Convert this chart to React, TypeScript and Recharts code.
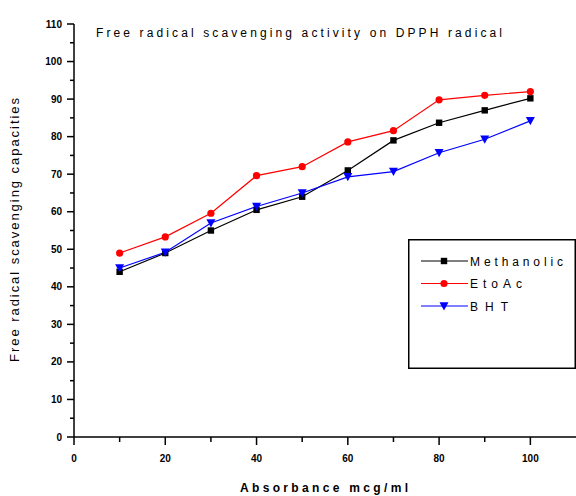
import React from "react";
import { LineChart, Line, XAxis, YAxis } from "recharts";

// concentration (mcg/ml) and scavenging capacity per extract
const concentrations = [10, 20, 30, 40, 50, 60, 70, 80, 90, 100];
const methanolic = [44, 49, 55, 60.5, 64, 71, 79, 83.7, 87, 90.2];
const etoac = [49, 53.3, 59.6, 69.6, 72, 78.6, 81.6, 89.8, 91, 92];
const bht = [45, 49.2, 57, 61.4, 65, 69.3, 70.7, 75.7, 79.3, 84.2];

const xTicks = [0, 10, 20, 30, 40, 50, 60, 70, 80, 90, 100];
const yTicks = [0, 5, 10, 15, 20, 25, 30, 35, 40, 45, 50, 55, 60, 65, 70, 75, 80, 85, 90, 95, 100, 105, 110];

const series = [
  { key: "methanolic", name: "Methanolic", color: "#000000", shape: "square", labelWidth: 93 },
  { key: "etoac", name: "EtoAc", color: "#ff0000", shape: "circle", labelWidth: 52 },
  { key: "bht", name: "BHT", color: "#0000ff", shape: "triangle", labelWidth: 38 },
];

const data = concentrations.map((c, i) => ({
  conc: c,
  methanolic: methanolic[i],
  etoac: etoac[i],
  bht: bht[i],
}));

const FONT = "'Liberation Sans', Arial, sans-serif";

function Marker({ shape, cx, cy, color }: { shape: string; cx: number; cy: number; color: string }) {
  if (shape === "square") {
    return <rect x={cx - 3.2} y={cy - 3.2} width={6.4} height={6.4} fill={color} />;
  }
  if (shape === "circle") {
    return <circle cx={cx} cy={cy} r={3.6} fill={color} />;
  }
  return (
    <polygon
      points={`${cx - 4.5},${cy - 3.8} ${cx + 4.5},${cy - 3.8} ${cx},${cy + 4.5}`}
      fill={color}
    />
  );
}

const makeDot = (shape: string, color: string) => (props: any) => {
  const { cx, cy, index } = props;
  if (cx == null || cy == null) return <g key={index} />;
  return (
    <g key={index}>
      <Marker shape={shape} cx={cx} cy={cy} color={color} />
    </g>
  );
};

function XTick(props: any) {
  const { x, y, payload } = props;
  const major = payload.value % 20 === 0;
  return (
    <g>
      <line x1={x} x2={x} y1={y} y2={y + (major ? 8 : 5)} stroke="#000" strokeWidth={1.5} />
      {major && (
        <text x={x} y={y + 25} textAnchor="middle" fontFamily={FONT} fontSize={10} fontWeight="bold" fill="#000">
          {payload.value}
        </text>
      )}
    </g>
  );
}

function YTick(props: any) {
  const { x, y, payload } = props;
  const major = payload.value % 10 === 0;
  return (
    <g>
      <line x1={x} x2={x - (major ? 7 : 4)} y1={y} y2={y} stroke="#000" strokeWidth={1.5} />
      {major && (
        <text x={x - 12} y={y + 3.5} textAnchor="end" fontFamily={FONT} fontSize={10} fontWeight="bold" fill="#000">
          {payload.value}
        </text>
      )}
    </g>
  );
}

// boxed legend in the lower right of the plot
function LegendBox({ x, y }: { x: number; y: number }) {
  return (
    <g transform={`translate(${x},${y})`}>
      <rect x={0.75} y={0.75} width={166.5} height={128.5} fill="#fff" stroke="#000" strokeWidth={1.5} />
      {series.map((s, i) => {
        const cy = 22 + i * 22.5;
        return (
          <g key={s.key}>
            <line x1={13} x2={60} y1={cy} y2={cy} stroke={s.color} strokeWidth={1.2} />
            <Marker shape={s.shape} cx={36} cy={cy} color={s.color} />
            <text
              x={62}
              y={cy + 4.5}
              fontFamily={FONT}
              fontSize={12}
              fill="#000"
              textLength={s.labelWidth}
              lengthAdjust="spacing"
            >
              {s.name}
            </text>
          </g>
        );
      })}
    </g>
  );
}

export default function App() {
  return (
    <div style={{ position: "absolute", left: 0, top: 0, width: 576, height: 496, background: "#fff" }}>
      <LineChart width={576} height={496} data={data} margin={{ top: 24, right: 0, bottom: 0, left: 0 }}>
        <XAxis
          dataKey="conc"
          type="number"
          domain={[0, 110]}
          ticks={xTicks}
          interval={0}
          tickSize={0}
          tickMargin={0}
          height={59}
          axisLine={{ stroke: "#000", strokeWidth: 1.5 }}
          tickLine={false}
          tick={<XTick />}
        />
        <YAxis
          type="number"
          domain={[0, 110]}
          ticks={yTicks}
          interval={0}
          tickSize={0}
          tickMargin={0}
          width={74}
          axisLine={{ stroke: "#000", strokeWidth: 1.5 }}
          tickLine={false}
          tick={<YTick />}
        />
        {series.map((s) => (
          <Line
            key={s.key}
            type="linear"
            dataKey={s.key}
            name={s.name}
            stroke={s.color}
            strokeWidth={1.2}
            dot={makeDot(s.shape, s.color)}
            activeDot={false}
            isAnimationActive={false}
          />
        ))}
      </LineChart>
      <svg
        width={576}
        height={496}
        style={{ position: "absolute", left: 0, top: 0, pointerEvents: "none" }}
      >
        <LegendBox x={408} y={239} />
        <text x={96} y={37} fontFamily={FONT} fontSize={12} fill="#000" textLength={406} lengthAdjust="spacing">
          Free radical scavenging activity on DPPH radical
        </text>
        <text
          transform="translate(19,230) rotate(-90)"
          textAnchor="middle"
          fontFamily={FONT}
          fontSize={13}
          fill="#000"
          textLength={264}
          lengthAdjust="spacing"
        >
          Free radical scavenging capacities
        </text>
        <text
          x={324}
          y={492}
          textAnchor="middle"
          fontFamily={FONT}
          fontSize={12}
          fontWeight="bold"
          fill="#000"
          textLength={168}
          lengthAdjust="spacing"
        >
          Absorbance mcg/ml
        </text>
      </svg>
    </div>
  );
}
